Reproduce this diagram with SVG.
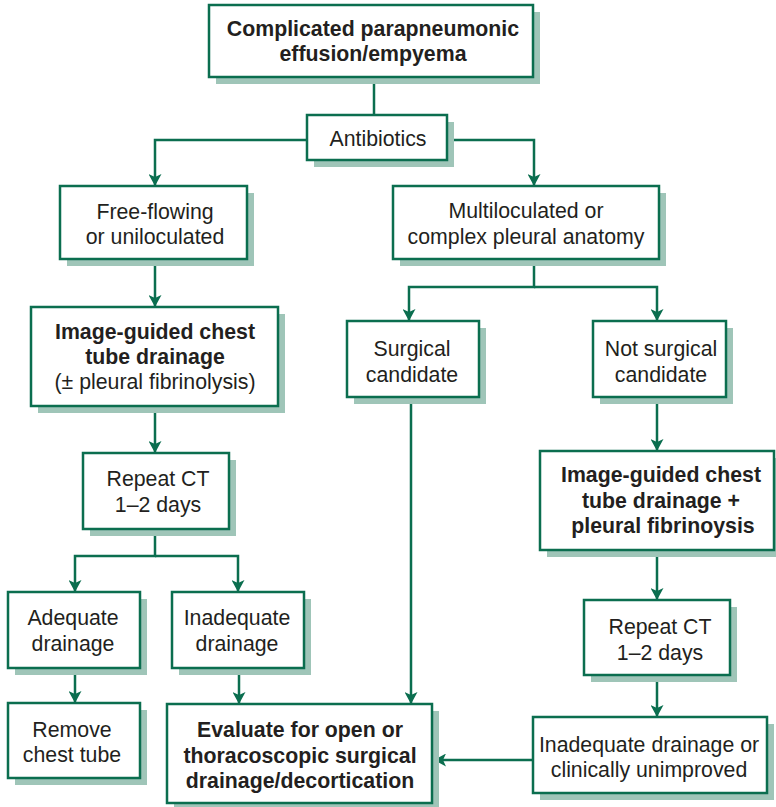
<svg xmlns="http://www.w3.org/2000/svg" width="776" height="807" viewBox="0 0 776 807">
<defs>
<marker id="ah" viewBox="0 0 12 13" refX="12" refY="6.5" markerWidth="12" markerHeight="13" markerUnits="userSpaceOnUse" orient="auto">
<path d="M0,0 L12,6.5 L0,13 L3,6.5 z" fill="#0b6e4f"/>
</marker>
</defs>
<style>
.sh{fill:#9fc5b8}
.bx{fill:#fff;stroke:#0b6e4f;stroke-width:2.5}
.t{font-family:"Liberation Sans",Arial,sans-serif;font-size:21.3px;fill:#231f20;text-anchor:middle}
.b{font-weight:bold}
.c{fill:none;stroke:#0b6e4f;stroke-width:2.5}
.a{marker-end:url(#ah)}
</style>
<rect width="776" height="807" fill="#fff"/>
<g id="connectors">
<path class="c" d="M374,77 V115"/>
<path class="c a" d="M307,140 H155 V186"/>
<path class="c a" d="M447,140 H534 V186"/>
<path class="c a" d="M155,259 V307"/>
<path class="c a" d="M155,406 V453"/>
<path class="c a" d="M155,529 V556 H75 V592"/>
<path class="c a" d="M155,556 H238 V592"/>
<path class="c a" d="M75,668 V703"/>
<path class="c a" d="M239,668 V704"/>
<path class="c a" d="M534,259 V287 H409 V321"/>
<path class="c a" d="M534,287 H657 V321"/>
<path class="c a" d="M411,397 V704"/>
<path class="c a" d="M657,397 V451"/>
<path class="c a" d="M657,550 V600"/>
<path class="c a" d="M657,675 V717"/>
<path class="c a" d="M533,760 H434"/>
</g>
<g id="n-top">
<rect class="sh" x="216" y="12" width="324" height="72"/>
<rect class="bx" x="209" y="5" width="324" height="72"/>
<text class="t b" x="373" y="36">Complicated parapneumonic</text>
<text class="t b" x="373" y="61">effusion/empyema</text>
</g>
<g id="n-antibiotics">
<rect class="sh" x="314" y="122" width="140" height="45"/>
<rect class="bx" x="307" y="115" width="140" height="45"/>
<text class="t" x="378" y="146">Antibiotics</text>
</g>
<g id="n-free">
<rect class="sh" x="67" y="193" width="187" height="73"/>
<rect class="bx" x="60" y="186" width="187" height="73"/>
<text class="t" x="155" y="219">Free-flowing</text>
<text class="t" x="155" y="244">or uniloculated</text>
</g>
<g id="n-multi">
<rect class="sh" x="400" y="193" width="266" height="73"/>
<rect class="bx" x="393" y="186" width="266" height="73"/>
<text class="t" x="526" y="218">Multiloculated or</text>
<text class="t" x="526" y="244">complex pleural anatomy</text>
</g>
<g id="n-imgL">
<rect class="sh" x="38" y="314" width="247" height="99"/>
<rect class="bx" x="31" y="307" width="247" height="99"/>
<text class="t b" x="155" y="339">Image-guided chest</text>
<text class="t b" x="155" y="364">tube drainage</text>
<text class="t" x="155" y="389">(± pleural fibrinolysis)</text>
</g>
<g id="n-surg">
<rect class="sh" x="354" y="328" width="132" height="76"/>
<rect class="bx" x="347" y="321" width="132" height="76"/>
<text class="t" x="412" y="356">Surgical</text>
<text class="t" x="412" y="382">candidate</text>
</g>
<g id="n-notsurg">
<rect class="sh" x="600" y="328" width="133" height="76"/>
<rect class="bx" x="593" y="321" width="133" height="76"/>
<text class="t" x="661" y="356">Not surgical</text>
<text class="t" x="661" y="382">candidate</text>
</g>
<g id="n-ctL">
<rect class="sh" x="90" y="460" width="146" height="76"/>
<rect class="bx" x="83" y="453" width="146" height="76"/>
<text class="t" x="158" y="486">Repeat CT</text>
<text class="t" x="158" y="512">1–2 days</text>
</g>
<g id="n-imgR">
<rect class="sh" x="547" y="458" width="234" height="99"/>
<rect class="bx" x="540" y="451" width="234" height="99"/>
<text class="t b" x="661" y="482">Image-guided chest</text>
<text class="t b" x="661" y="508">tube drainage +</text>
<text class="t b" x="663" y="533">pleural fibrinoysis</text>
</g>
<g id="n-adequate">
<rect class="sh" x="15" y="599" width="132" height="76"/>
<rect class="bx" x="8" y="592" width="132" height="76"/>
<text class="t" x="73" y="625">Adequate</text>
<text class="t" x="73" y="651">drainage</text>
</g>
<g id="n-inadequate">
<rect class="sh" x="179" y="599" width="132" height="76"/>
<rect class="bx" x="172" y="592" width="132" height="76"/>
<text class="t" x="237" y="625">Inadequate</text>
<text class="t" x="237" y="651">drainage</text>
</g>
<g id="n-ctR">
<rect class="sh" x="591" y="607" width="146" height="75"/>
<rect class="bx" x="584" y="600" width="146" height="75"/>
<text class="t" x="660" y="634">Repeat CT</text>
<text class="t" x="660" y="660">1–2 days</text>
</g>
<g id="n-remove">
<rect class="sh" x="15" y="710" width="132" height="75"/>
<rect class="bx" x="8" y="703" width="132" height="75"/>
<text class="t" x="72" y="737">Remove</text>
<text class="t" x="72" y="762">chest tube</text>
</g>
<g id="n-evaluate">
<rect class="sh" x="174" y="711" width="265" height="99"/>
<rect class="bx" x="167" y="704" width="265" height="99"/>
<text class="t b" x="300" y="737">Evaluate for open or</text>
<text class="t b" x="300" y="763">thoracoscopic surgical</text>
<text class="t b" x="300" y="788">drainage/decortication</text>
</g>
<g id="n-inadR">
<rect class="sh" x="540" y="724" width="234" height="76"/>
<rect class="bx" x="533" y="717" width="234" height="76"/>
<text class="t" x="649" y="752">Inadequate drainage or</text>
<text class="t" x="649" y="777">clinically unimproved</text>
</g>
</svg>
